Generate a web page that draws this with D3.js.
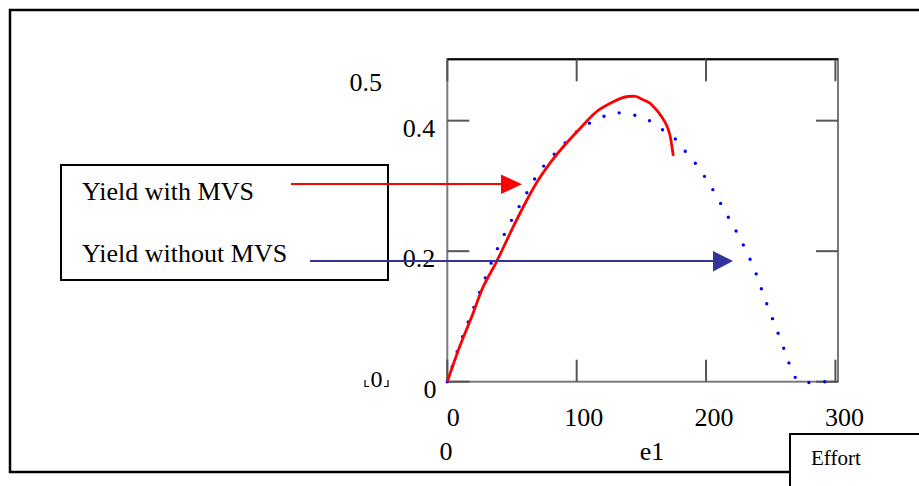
<!DOCTYPE html>
<html>
<head>
<meta charset="utf-8">
<script src="https://cdn.jsdelivr.net/npm/d3@7"></script>
<style>
  body { margin: 0; background: #fff; }
  text { font-family: "Liberation Serif", "Times New Roman", serif; fill: #000; }
</style>
</head>
<body>
<div id="chart"></div>
<script>
// values
var blueX = [0, 9, 17.8, 27, 36.3, 46.9, 58.3, 70.9, 86.3, 102.6, 122.9, 134, 145.6, 156.1, 165.7, 174.7, 180.8, 189.3, 202.6, 214.4, 226.4, 237, 245.5, 254.6, 262, 266.4, 272, 286, 300];
var blueY = [0, 0.054, 0.100, 0.147, 0.193, 0.237, 0.278, 0.321, 0.356, 0.387, 0.408, 0.412, 0.408, 0.400, 0.387, 0.375, 0.360, 0.341, 0.303, 0.262, 0.219, 0.174, 0.127, 0.080, 0.041, 0.017, 0, 0, 0];

var redX = [0, 9.8, 18.9, 27.8, 38.2, 51, 61.4, 70.3, 79.4, 89.6, 102.6, 115.5, 128.3, 135, 140, 146, 151.5, 156.6, 161.8, 165.7, 169.5, 172.1, 173.4, 174.7];
var redY = [0, 0.055, 0.0996, 0.1456, 0.1845, 0.2375, 0.278, 0.309, 0.335, 0.360, 0.388, 0.414, 0.429, 0.435, 0.437, 0.437, 0.432, 0.427, 0.416, 0.406, 0.393, 0.378, 0.363, 0.346];

var xTicks = [0, 100, 200, 300];
var yTicks = [0, 0.2, 0.4];
var yTickLabels = ['0', '0.2', '0.4'];
var legendNames = ['Yield with MVS', 'Yield without MVS'];

var svgWidth = 919;
var svgHeight = 486;

var plot = { left: 447.3, right: 838, top: 59.3, bottom: 381.7 };

var svg = d3.select('#chart')
    .append('svg')
    .attr('width', svgWidth)
    .attr('height', svgHeight);

var xScale = d3.scaleLinear().domain([0, 302]).range([plot.left, plot.right]);
var yScale = d3.scaleLinear().domain([0, 0.494]).range([plot.bottom, plot.top]);

// outer page frame
svg.append('path')
    .attr('d', 'M930,10 H10 V472 H790')
    .attr('fill', 'none').attr('stroke', '#000').attr('stroke-width', 2.5);
svg.append('path')
    .attr('d', 'M790,495 V434 H930')
    .attr('fill', 'none').attr('stroke', '#000').attr('stroke-width', 2);
svg.append('text').attr('x', 811).attr('y', 465).attr('font-size', 21).text('Effort');

// plot frame
svg.append('rect')
    .attr('x', plot.left).attr('y', plot.top)
    .attr('width', plot.right - plot.left).attr('height', plot.bottom - plot.top)
    .attr('fill', 'none').attr('stroke', '#7a7a7a').attr('stroke-width', 2);
svg.append('line')
    .attr('x1', plot.left).attr('x2', plot.right).attr('y1', plot.top).attr('y2', plot.top)
    .attr('stroke', '#000').attr('stroke-width', 2);

var tickG = svg.append('g').attr('stroke', '#555').attr('stroke-width', 2);
yTicks.forEach(function(v) {
    tickG.append('line').attr('x1', plot.left).attr('x2', plot.left + 22).attr('y1', yScale(v)).attr('y2', yScale(v));
    tickG.append('line').attr('x1', plot.right - 22).attr('x2', plot.right).attr('y1', yScale(v)).attr('y2', yScale(v));
});
xTicks.forEach(function(v) {
    tickG.append('line').attr('x1', xScale(v)).attr('x2', xScale(v)).attr('y1', plot.bottom).attr('y2', plot.bottom - 22);
    tickG.append('line').attr('x1', xScale(v)).attr('x2', xScale(v)).attr('y1', plot.top).attr('y2', plot.top + 22);
});

// tick labels
svg.append('g').selectAll('text').data(yTicks.slice(1))
    .enter().append('text')
    .attr('x', plot.left - 12)
    .attr('y', d => yScale(d) + 16)
    .attr('text-anchor', 'end')
    .attr('font-size', 26)
    .text((d, i) => yTickLabels[i + 1]);

svg.append('text').attr('x', 430).attr('y', 398).attr('text-anchor', 'middle').attr('font-size', 26).text('0');
svg.append('text').attr('x', 382).attr('y', 91).attr('text-anchor', 'end').attr('font-size', 26).text('0.5');

svg.append('g').selectAll('text').data(xTicks)
    .enter().append('text')
    .attr('x', d => xScale(d) + 6 + d * 0.01)
    .attr('y', 426)
    .attr('text-anchor', 'middle')
    .attr('font-size', 26)
    .text(d => d);

svg.append('text').attr('x', 446).attr('y', 460).attr('text-anchor', 'middle').attr('font-size', 26).text('0');
svg.append('text').attr('x', 652).attr('y', 460).attr('text-anchor', 'middle').attr('font-size', 26).text('e1');

// placeholder "0" with corner marks
svg.append('text').attr('x', 376.5).attr('y', 387).attr('text-anchor', 'middle').attr('font-size', 24).text('0');
svg.append('path')
    .attr('d', 'M365,380 V386.5 H369 M388,380 V386.5 H384')
    .attr('fill', 'none').attr('stroke', '#000').attr('stroke-width', 1.2);

// curves
var blueData = blueX.map((d, i) => ({ x: d, y: blueY[i] }));
var redData = redX.map((d, i) => ({ x: d, y: redY[i] }));

var line = d3.line()
    .x(d => xScale(d.x))
    .y(d => yScale(d.y))
    .curve(d3.curveMonotoneX);

svg.append('path')
    .datum(blueData)
    .attr('d', d3.line().x(d => xScale(d.x)).y(d => yScale(d.y)).curve(d3.curveCatmullRom))
    .attr('fill', 'none')
    .attr('stroke', '#0000ff')
    .attr('stroke-width', 3.4)
    .attr('stroke-linecap', 'round')
    .attr('stroke-dasharray', '0,15.8');

svg.append('path')
    .datum(redData)
    .attr('d', d3.line().x(d => xScale(d.x)).y(d => yScale(d.y)).curve(d3.curveCatmullRom))
    .attr('fill', 'none')
    .attr('stroke', '#ff0000')
    .attr('stroke-width', 2.8);

// legend box
svg.append('rect')
    .attr('x', 61).attr('y', 165).attr('width', 327).attr('height', 115)
    .attr('fill', 'none').attr('stroke', '#000').attr('stroke-width', 2);

svg.append('g').selectAll('text').data(legendNames)
    .enter().append('text')
    .attr('x', 82)
    .attr('y', (d, i) => i == 0 ? 200 : 262)
    .attr('font-size', 26)
    .text(d => d);

// arrows
svg.append('line').attr('x1', 291).attr('x2', 502).attr('y1', 184).attr('y2', 184)
    .attr('stroke', '#ff0000').attr('stroke-width', 2);
svg.append('path').attr('d', 'M501,174.5 L522,184.3 L501,194 Z').attr('fill', '#ff0000');

svg.append('line').attr('x1', 310).attr('x2', 714).attr('y1', 261).attr('y2', 261)
    .attr('stroke', '#333399').attr('stroke-width', 2.2);
svg.append('path').attr('d', 'M713,251 L733,261 L713,271.5 Z').attr('fill', '#333399');
</script>
</body>
</html>
